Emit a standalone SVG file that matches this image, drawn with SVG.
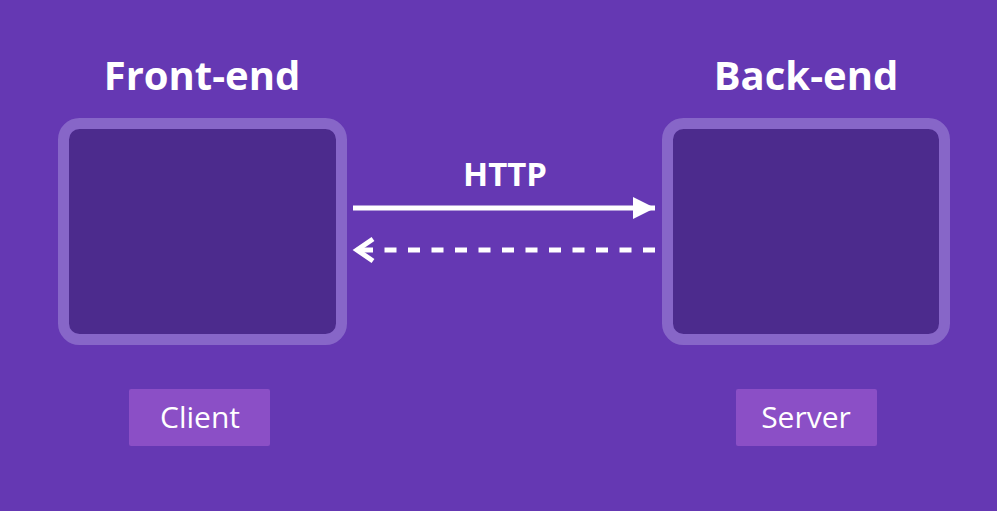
<svg xmlns="http://www.w3.org/2000/svg" width="997" height="511" viewBox="0 0 997 511">
<defs>
<style>
.box{fill:#4c2b8d;stroke:#8766c8;stroke-width:11}
.title{font-family:"Open Sans","Liberation Sans",sans-serif;font-weight:bold;fill:#ffffff;text-anchor:middle}
.lbl{fill:#8b4fc6}
.lt{font-family:"Open Sans","Liberation Sans",sans-serif;fill:#ffffff;text-anchor:middle;font-size:30px}
.ln{stroke:#ffffff;stroke-width:5;fill:none}
</style>
<marker id="solidHead" markerUnits="userSpaceOnUse" markerWidth="24" markerHeight="24" refX="22" refY="11" orient="auto">
<path d="M0,0 L22,11 L0,22 Z" fill="#ffffff"/>
</marker>
</defs>
<rect width="997" height="511" fill="#6538b3"/>
<g id="frontend">
<text class="title" x="202" y="90" font-size="40">Front-end</text>
<rect class="box" x="63.5" y="123.5" width="278" height="216" rx="16"/>
</g>
<g id="backend">
<text class="title" x="806" y="90" font-size="40">Back-end</text>
<rect class="box" x="667.5" y="123.5" width="277" height="216" rx="16"/>
</g>
<g id="client">
<rect class="lbl" x="129" y="389" width="141" height="57" rx="2"/>
<text class="lt" x="200" y="428">Client</text>
</g>
<g id="server">
<rect class="lbl" x="736" y="389" width="141" height="57" rx="2"/>
<text class="lt" x="806" y="428">Server</text>
</g>
<g id="connectors">
<text class="title" x="505" y="186" font-size="32" textLength="84" lengthAdjust="spacingAndGlyphs">HTTP</text>
<line class="ln" x1="353" y1="208" x2="655" y2="208" marker-end="url(#solidHead)"/>
<line class="ln" x1="655" y1="250" x2="358" y2="250" stroke-dasharray="12 11.5"/>
<polyline class="ln" points="373,239 357,250 373,261"/>
</g>
</svg>
